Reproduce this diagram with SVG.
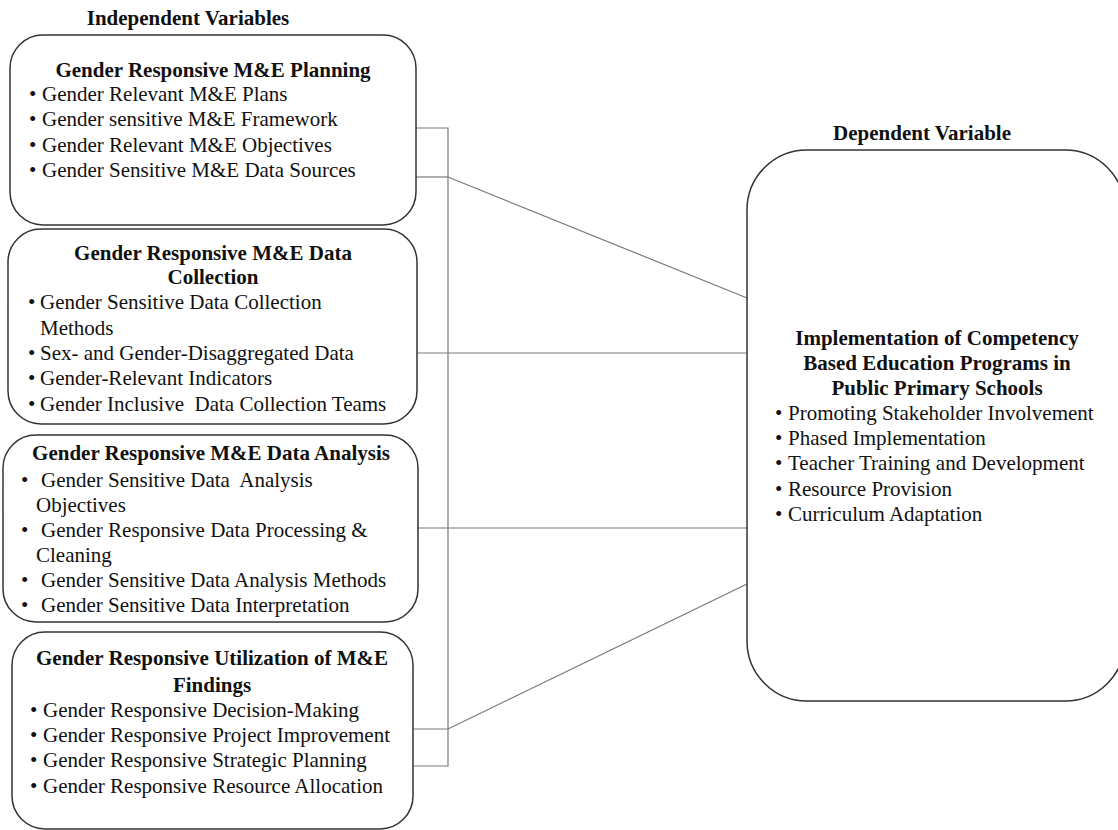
<svg xmlns="http://www.w3.org/2000/svg" width="1118" height="830" viewBox="0 0 1118 830">
<style>
.box{fill:#fff;stroke:#333;stroke-width:1.5}
.conn{stroke:#7a7a7a;stroke-width:1.2;fill:none}
text{font-family:"Liberation Serif","Times New Roman",serif;font-size:21px;fill:#111}
.b{font-weight:bold}
.c{text-anchor:middle}
</style>
<rect width="1118" height="830" fill="#fff"/>
<g id="connectors">
<polyline class="conn" points="416,128 448,128 448,766 413,766"/>
<line class="conn" x1="413" y1="729" x2="448" y2="729"/>
<line class="conn" x1="416" y1="177" x2="448" y2="177"/>
<line class="conn" x1="448" y1="177" x2="747" y2="298"/>
<line class="conn" x1="417" y1="353" x2="747" y2="353"/>
<line class="conn" x1="418" y1="528" x2="747" y2="528"/>
<line class="conn" x1="448" y1="729" x2="747" y2="584"/>
</g>
<text class="b c" x="188" y="25">Independent Variables</text>
<text class="b c" x="922" y="140">Dependent Variable</text>
<g id="planning">
<rect class="box" x="10" y="35" width="406" height="190" rx="33"/>
<text class="b c" x="213" y="77">Gender Responsive M&amp;E Planning</text>
<text x="29" y="100.5">•</text><text x="42" y="100.5">Gender Relevant M&amp;E Plans</text>
<text x="29" y="126">•</text><text x="42" y="126">Gender sensitive M&amp;E Framework</text>
<text x="29" y="151.5">•</text><text x="42" y="151.5">Gender Relevant M&amp;E Objectives</text>
<text x="29" y="177">•</text><text x="42" y="177">Gender Sensitive M&amp;E Data Sources</text>
</g>
<g id="collection">
<rect class="box" x="8" y="229" width="409" height="195" rx="33"/>
<text class="b c" x="213" y="260">Gender Responsive M&amp;E Data</text>
<text class="b c" x="213" y="284">Collection</text>
<text x="28" y="309">•</text><text x="40" y="309">Gender Sensitive Data Collection</text>
<text x="40" y="335">Methods</text>
<text x="28" y="360">•</text><text x="40" y="360">Sex- and Gender-Disaggregated Data</text>
<text x="28" y="385">•</text><text x="40" y="385">Gender-Relevant Indicators</text>
<text x="28" y="411">•</text><text x="40" y="411" xml:space="preserve">Gender Inclusive  Data Collection Teams</text>
</g>
<g id="analysis">
<rect class="box" x="3" y="435" width="415" height="187" rx="33"/>
<text class="b c" x="211" y="460">Gender Responsive M&amp;E Data Analysis</text>
<text x="21" y="487">•</text><text x="41" y="487" xml:space="preserve">Gender Sensitive Data  Analysis</text>
<text x="36" y="512">Objectives</text>
<text x="21" y="537">•</text><text x="41" y="537">Gender Responsive Data Processing &amp;</text>
<text x="36" y="562">Cleaning</text>
<text x="21" y="587">•</text><text x="41" y="587">Gender Sensitive Data Analysis Methods</text>
<text x="21" y="612">•</text><text x="41" y="612">Gender Sensitive Data Interpretation</text>
</g>
<g id="utilization">
<rect class="box" x="12" y="632" width="401" height="197" rx="33"/>
<text class="b c" x="212" y="665">Gender Responsive Utilization of M&amp;E</text>
<text class="b c" x="212" y="692">Findings</text>
<text x="30" y="717">•</text><text x="43" y="717">Gender Responsive Decision-Making</text>
<text x="30" y="742">•</text><text x="43" y="742">Gender Responsive Project Improvement</text>
<text x="30" y="767">•</text><text x="43" y="767">Gender Responsive Strategic Planning</text>
<text x="30" y="793">•</text><text x="43" y="793">Gender Responsive Resource Allocation</text>
</g>
<g id="implementation">
<rect class="box" x="747" y="150" width="378" height="551" rx="60"/>
<text class="b c" x="937" y="345">Implementation of Competency</text>
<text class="b c" x="937" y="370">Based Education Programs in</text>
<text class="b c" x="937" y="395">Public Primary Schools</text>
<text x="775" y="420">•</text><text x="788" y="420">Promoting Stakeholder Involvement</text>
<text x="775" y="445">•</text><text x="788" y="445">Phased Implementation</text>
<text x="775" y="470">•</text><text x="788" y="470">Teacher Training and Development</text>
<text x="775" y="496">•</text><text x="788" y="496">Resource Provision</text>
<text x="775" y="521">•</text><text x="788" y="521">Curriculum Adaptation</text>
</g>
</svg>
